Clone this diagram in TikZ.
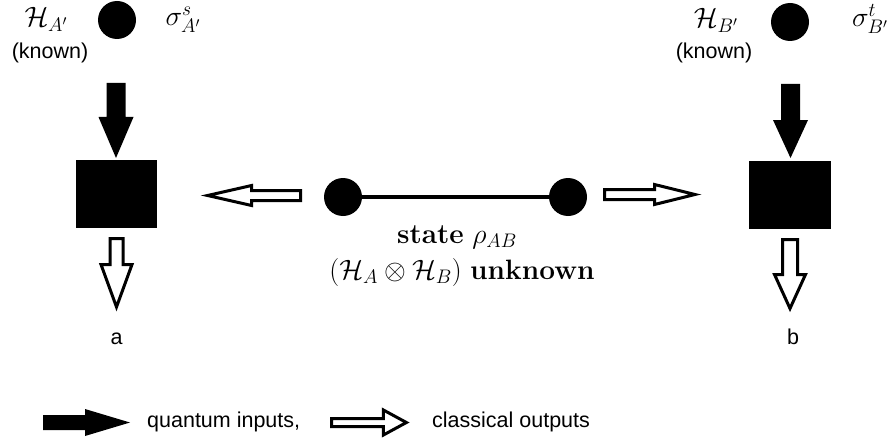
\IfFileExists{fix-cm.sty}{\RequirePackage{fix-cm}}{}
\documentclass[tikz,border=0pt]{standalone}
\usepackage{fontspec}
\newfontfamily\arialfont{Liberation Sans}
\usetikzlibrary{calc}
\newcommand\blockarr[6]{% #1 style, #2 from, #3 to, #4 head length, #5 head half width, #6 shaft half width
  \path ($(#3)!#4!(#2)$) coordinate (hb);
  \path[#1] ($(#2)!#6!90:(#3)$) -- ($(hb)!#6!90:(#3)$) -- ($(hb)!#5!90:(#3)$) -- (#3)
    -- ($(hb)!#5!-90:(#3)$) -- ($(hb)!#6!-90:(#3)$) -- ($(#2)!#6!-90:(#3)$) -- cycle;}
\begin{document}
\begin{tikzpicture}[x=1pt,y=-1pt,
  dot/.style={circle,fill=black,inner sep=0pt,minimum size=38pt},
  blackbox/.style={rectangle,fill=black,inner sep=0pt,minimum width=81pt,minimum height=68pt},
  sans/.style={font=\arialfont\fontsize{21.5}{26}\selectfont,inner sep=0pt},
  mathlbl/.style={font=\fontsize{28}{34}\selectfont,inner sep=0pt},
  qarrow/.style={fill=black},
  carrow/.style={draw=black,line width=3pt,line join=miter,fill=white}]
\fill[white] (0,0) rectangle (893,441);
\path[use as bounding box] (0,0) rectangle (893,441);

% top left
\node[mathlbl,anchor=base] (HA) at (46,27) {$\mathcal{H}_{A'}$};
\node[sans] (knA) at (50,53) {(known)};
\node[dot] (sA) at (117,20) {};
\node[mathlbl,anchor=base] (sigA) at (183,26) {$\sigma^{s}_{A'}$};
% top right
\node[mathlbl,anchor=base] (HB) at (716,28) {$\mathcal{H}_{B'}$};
\node[sans] (knB) at (714,53) {(known)};
\node[dot] (sB) at (790,22) {};
\node[mathlbl,anchor=base] (sigB) at (870,27) {$\sigma^{t}_{B'}$};

% boxes
\node[blackbox] (boxA) at (116.5,194) {};
\node[blackbox,minimum width=82pt] (boxB) at (790,195) {};

% entangled pair
\node[dot] (dA) at (343,197) {};
\node[dot] (dB) at (568,197) {};
\draw[line width=4pt] (dA) -- (dB);
\node[mathlbl,anchor=base] (st) at (457,243) {\textbf{state} $\rho_{AB}$};
\node[mathlbl,anchor=base] (un) at (462,279) {$(\mathcal{H}_A\otimes\mathcal{H}_B)$ \textbf{unknown}};

% outputs
\node[sans,anchor=base] (a) at (116.5,344) {a};
\node[sans,anchor=base] (b) at (793,344) {b};

% quantum inputs
\coordinate (qA1) at (116,83);
\coordinate (qA2) at (116,158);
\coordinate (qB1) at (790.5,84);
\coordinate (qB2) at (790.5,158);
\blockarr{qarrow}{qA1}{qA2}{41pt}{17.5pt}{9.5pt}
\blockarr{qarrow}{qB1}{qB2}{38pt}{17.5pt}{9.5pt}

% classical arrows
\coordinate (oA1) at (116.5,238.5);
\coordinate (oA2) at (116.5,307);
\coordinate (oB1) at (790,239.5);
\coordinate (oB2) at (790,308.5);
\blockarr{carrow}{oA1}{oA2}{42.5pt}{15.5pt}{6.5pt}
\blockarr{carrow}{oB1}{oB2}{34pt}{15.5pt}{7.5pt}
\coordinate (lA1) at (300.5,195.5);
\coordinate (lA2) at (207.6,195.5);
\coordinate (rB1) at (604.5,194.5);
\coordinate (rB2) at (695,194.5);
\blockarr{carrow}{lA1}{lA2}{44pt}{10pt}{5pt}
\blockarr{carrow}{rB1}{rB2}{40.5pt}{10pt}{5pt}

% legend
\coordinate (L1) at (43,422.5);
\coordinate (L2) at (130,422.5);
\blockarr{qarrow}{L1}{L2}{45pt}{13.5pt}{7.5pt}
\node[sans,anchor=west] (lq) at (147,422) {quantum inputs,};
\coordinate (M1) at (331.5,422.5);
\coordinate (M2) at (406.4,422.5);
\blockarr{carrow}{M1}{M2}{23pt}{12.5pt}{4pt}
\node[sans,anchor=west] (lc) at (432,422) {classical outputs};
\end{tikzpicture}
\end{document}
